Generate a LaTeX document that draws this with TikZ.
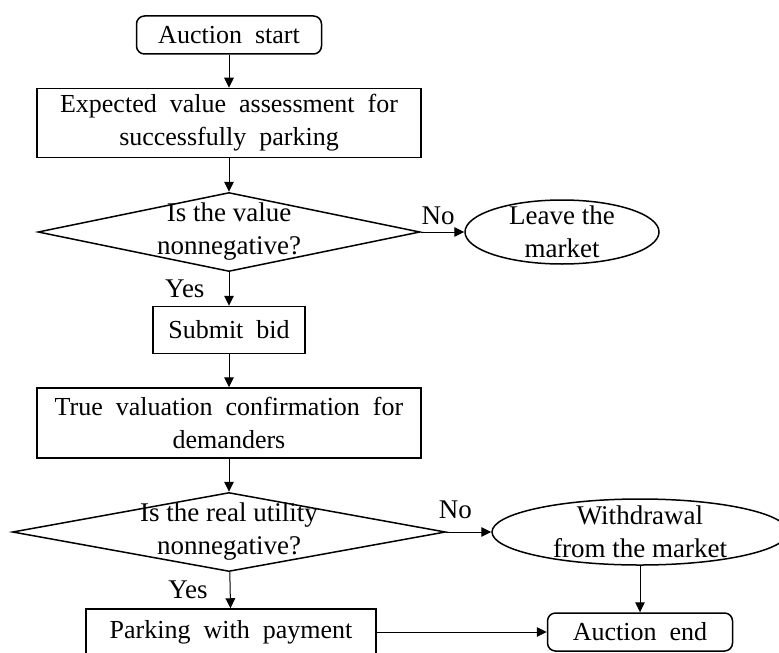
\documentclass[tikz,border=0pt]{standalone}
\usepackage{fontspec}
\setmainfont{Liberation Serif}
\usepackage{tikz}
\usetikzlibrary{shapes.geometric, arrows.meta}
\newcommand{\flowfont}{\fontsize{13.5}{16.5}\selectfont}
\newcommand{\boxfont}{\fontsize{13}{16.5}\selectfont\spaceskip=0.5em plus 0.1em minus 0.05em\relax}
\tikzstyle{startstop} = [rectangle, rounded corners=4pt, minimum width=92.5pt, minimum height=19pt, text centered, draw=black, line width=0.75pt, font=\boxfont]
\tikzstyle{process} = [rectangle, align=center, draw=black, line width=0.75pt, inner sep=1pt, font=\boxfont]
\tikzstyle{decision} = [diamond, inner sep=-50pt, align=center, draw=black, line width=0.75pt, font=\flowfont]
\tikzstyle{quit} = [ellipse, inner sep=-50pt, align=center, draw=black, line width=0.75pt, font=\flowfont]
\tikzstyle{arrow} = [line width=0.5pt, -{Triangle[length=5pt, width=4.8pt]}]
\tikzstyle{lbl} = [inner sep=0pt, font=\flowfont]

\begin{document}
\begin{tikzpicture}[node distance=49pt]
    \useasboundingbox (0,0) rectangle (389.5pt,-326pt);
        \node (start) [startstop] at (114.5pt,-17.5pt) {Auction start};
        \node (assess) [process, below of=start, yshift=5pt, minimum width=192pt, minimum height=34.5pt] {Expected value assessment for\\successfully parking};
        \node (check1) [decision, below of=assess, yshift=-5.5pt, minimum width=191pt, minimum height=39.5pt] {Is the value\\nonnegative?};
        \node (leave) [quit, right of=check1, xshift=117.5pt, minimum width=97pt, minimum height=32pt] {Leave the\\market};
        \node (bid) [process, below of=check1, minimum width=76pt, minimum height=23.5pt] {Submit bid};
        \node (confirm) [process, below of=bid, yshift=2.5pt, minimum width=192pt, minimum height=35pt] {True valuation confirmation for\\demanders};
        \node (check2) [decision, below of=confirm, yshift=-5.5pt, minimum width=216.5pt, minimum height=39.5pt] {Is the real utility\\nonnegative?};
        \node (withdraw) [quit, right of=check2, xshift=156.5pt, minimum width=148pt, minimum height=33pt] {Withdrawal\\from the market};
        \node (pay) [process, below of=check2, yshift=-1pt, xshift=1pt, minimum width=145pt, minimum height=23pt] {Parking with payment};
        \node (endn) [startstop, right of=pay, xshift=155.5pt] {Auction end};

        \draw [arrow] (start) -- (assess);
        \draw [arrow] (assess) -- (check1);
        \draw [arrow] (check1) -- node[lbl, above=3.5pt, pos=0.4] (no1) {No} (leave);
        \draw [arrow] (check1) -- node[lbl, left=12pt] (yes1) {Yes} (bid);
        \draw [arrow] (bid) -- (confirm);
        \draw [arrow] (confirm) -- (check2);
        \draw [arrow] (check2) -- node[lbl, above=6.5pt, pos=0.2] (no2) {No} (withdraw);
        \draw [arrow] (check2) -- node[lbl, left=11pt] (yes2) {Yes} (pay);
        \draw [arrow] (withdraw) -- (endn);
        \draw [arrow] (pay) -- (endn);
    \end{tikzpicture}
\end{document}
